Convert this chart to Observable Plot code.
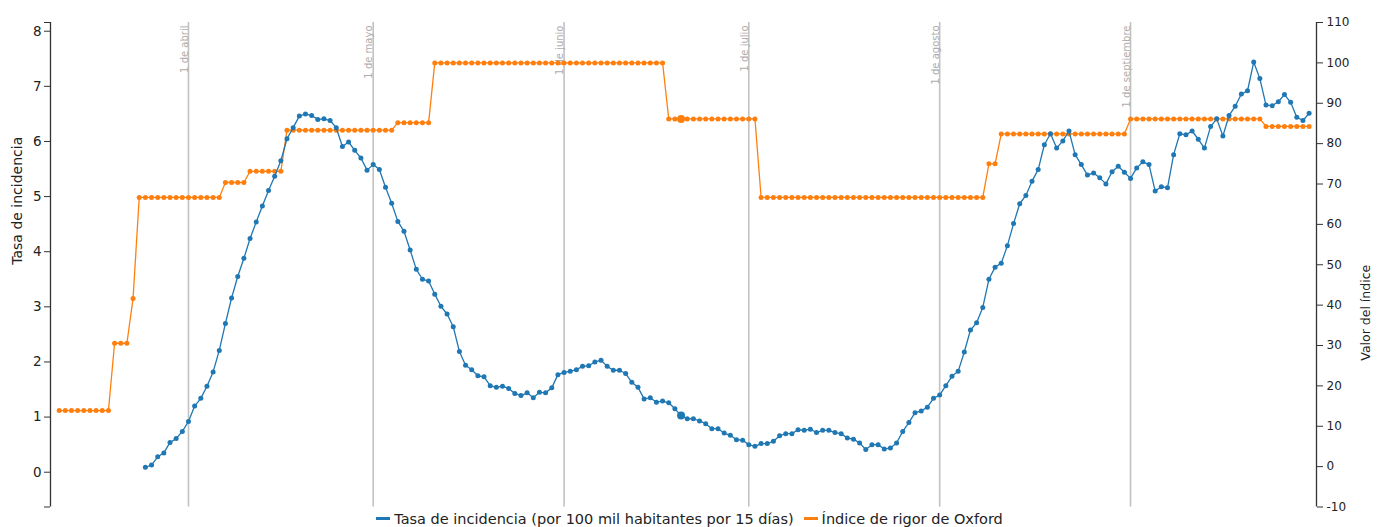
<!DOCTYPE html>
<html>
<head>
<meta charset="utf-8">
<script src="https://cdn.jsdelivr.net/npm/d3@7"></script>
<script src="https://cdn.jsdelivr.net/npm/@observablehq/plot@0.6"></script>
<style>
  html, body { margin: 0; padding: 0; background: #fff; }
  body { width: 1383px; font-family: "DejaVu Sans", sans-serif; }
  #chart svg { display: block; overflow: visible; }
  #legend { height: 17px; display: flex; justify-content: center; align-items: center;
            font-size: 14.5px; color: #222; white-space: nowrap; padding-right: 4px; }
  #legend .sw { display: inline-block; width: 14px; height: 3px; margin-right: 4px; }
  #legend .item { display: inline-flex; align-items: center; margin: 0 5px; }
</style>
</head>
<body>
<div id="chart"></div>
<div id="legend"></div>
<script>
// ---------------- data ----------------
const incidenceStart = "2020-03-25";
// Tasa de incidencia, daily from 25 March to 30 September
const incidence = [
  // Mar 25-31
  0.09, 0.13, 0.28, 0.35, 0.54, 0.61, 0.74,
  // Apr
  0.92, 1.20, 1.34, 1.56, 1.82, 2.21, 2.70, 3.16, 3.55, 3.88,
  4.24, 4.54, 4.83, 5.11, 5.37, 5.65, 6.05, 6.25, 6.46, 6.50,
  6.47, 6.40, 6.41, 6.38, 6.25, 5.91, 5.99, 5.84, 5.70, 5.48,
  // May
  5.58, 5.49, 5.17, 4.88, 4.55, 4.37, 4.03, 3.68, 3.50, 3.47,
  3.23, 3.01, 2.87, 2.64, 2.19, 1.94, 1.86, 1.75, 1.73, 1.57,
  1.54, 1.56, 1.52, 1.43, 1.39, 1.44, 1.35, 1.45, 1.44, 1.53, 1.77,
  // Jun
  1.81, 1.83, 1.86, 1.92, 1.93, 2.00, 2.03, 1.92, 1.85, 1.85,
  1.79, 1.63, 1.54, 1.33, 1.35, 1.27, 1.29, 1.26, 1.15, 1.03,
  0.97, 0.97, 0.93, 0.88, 0.79, 0.79, 0.71, 0.67, 0.59, 0.58,
  // Jul
  0.50, 0.47, 0.52, 0.52, 0.56, 0.66, 0.70, 0.70, 0.77, 0.76,
  0.78, 0.72, 0.76, 0.76, 0.72, 0.70, 0.62, 0.60, 0.53, 0.41,
  0.50, 0.50, 0.42, 0.44, 0.53, 0.74, 0.90, 1.08, 1.11, 1.18, 1.34,
  // Aug
  1.40, 1.57, 1.74, 1.83, 2.18, 2.58, 2.71, 2.99, 3.50, 3.72,
  3.79, 4.11, 4.51, 4.87, 5.02, 5.28, 5.49, 5.94, 6.14, 5.88,
  6.01, 6.19, 5.76, 5.58, 5.39, 5.43, 5.34, 5.23, 5.45, 5.55, 5.44,
  // Sep
  5.33, 5.52, 5.63, 5.58, 5.10, 5.18, 5.16, 5.76, 6.14, 6.12,
  6.19, 6.04, 5.88, 6.27, 6.41, 6.10, 6.47, 6.64, 6.86, 6.92,
  7.44, 7.14, 6.66, 6.65, 6.72, 6.85, 6.71, 6.44, 6.38, 6.51
];

// Índice de rigor de Oxford: value in force from each date on
const oxfordStepDates  = ["2020-03-11","2020-03-20","2020-03-23","2020-03-24","2020-04-07","2020-04-11",
                          "2020-04-17","2020-05-05","2020-05-11","2020-06-18","2020-07-03","2020-08-09",
                          "2020-08-11","2020-09-01","2020-09-23"];
const oxfordStepValues = [13.89, 30.56, 41.67, 66.67, 70.37, 73.15,
                          83.33, 85.19, 100, 86.11, 66.67, 75.00,
                          82.41, 86.11, 84.26];
const oxfordEnd = "2020-09-30";

const monthDates  = ["2020-04-01","2020-05-01","2020-06-01","2020-07-01","2020-08-01","2020-09-01"];
const monthLabels = ["1 de abril","1 de mayo","1 de junio","1 de julio","1 de agosto","1 de septiembre"];

const leftTicks  = [0, 1, 2, 3, 4, 5, 6, 7, 8];
const rightTicks = [-10, 0, 10, 20, 30, 40, 50, 60, 70, 80, 90, 100, 110];

const highlightDate = "2020-06-20";

const seriesNames  = ["Tasa de incidencia (por 100 mil habitantes por 15 días)", "Índice de rigor de Oxford"];
const seriesColors = ["#1f77b4", "#ff7f0e"];
const leftTitle  = "Tasa de incidencia";
const rightTitle = "Valor del índice";

// ---------------- scales ----------------
const xDomain = [new Date("2020-03-09T14:10:00Z"), new Date("2020-10-01T04:50:00Z")];
const yDomain = [-0.631, 8.158];        // left axis
const rDomain = [-10, 110];             // right axis
const toLeft = r => yDomain[0] + (r - rDomain[0]) * (yDomain[1] - yDomain[0]) / (rDomain[1] - rDomain[0]);
const fromLeft = y => rDomain[0] + (y - yDomain[0]) * (rDomain[1] - rDomain[0]) / (yDomain[1] - yDomain[0]);

// ---------------- tables ----------------
const parse = s => new Date(s + "T00:00:00Z");
const incData = incidence.map((v, i) => ({date: d3.utcDay.offset(parse(incidenceStart), i), value: v}));
const stepDates = oxfordStepDates.map(parse);
const oxData = d3.utcDay.range(stepDates[0], d3.utcDay.offset(parse(oxfordEnd), 1)).map(date => {
  const k = d3.bisectRight(stepDates, date) - 1;
  return {date, value: oxfordStepValues[k], yl: toLeft(oxfordStepValues[k])};
});
const months = monthDates.map((d, i) => ({date: parse(d), label: monthLabels[i]}));
const hl = parse(highlightDate);
const incHL = incData.filter(d => +d.date === +hl);
const oxHL = oxData.filter(d => +d.date === +hl);

const leftTickPos = [yDomain[0], ...leftTicks, yDomain[1]];
const rightTickPos = rightTicks.map(toLeft);

const [blue, orange] = seriesColors;

const plot = Plot.plot({
  width: 1383,
  height: 510,
  marginLeft: 50,
  marginRight: 67,
  marginTop: 22,
  marginBottom: 3.5,
  style: {fontFamily: "DejaVu Sans", background: "#fff", color: "#222", overflow: "visible"},
  x: {type: "utc", domain: xDomain, axis: null},
  y: {domain: yDomain, axis: null},
  marks: [
    Plot.ruleX(months, {x: "date", stroke: "#c2c2c2", strokeWidth: 1.6}),
    Plot.text(months, {x: "date", text: "label", frameAnchor: "top", rotate: -90, textAnchor: "end",
                       dx: -8, dy: 3, fill: "#adadad", fontSize: 10}),
    Plot.ruleX(xDomain, {stroke: "#333", strokeWidth: 1.3}),
    Plot.axisY(leftTickPos, {anchor: "left", tickSize: 6, tickPadding: 3, fontSize: 13.5, label: null,
                             stroke: "#333", fill: "#222",
                             tickFormat: d => leftTicks.includes(d) ? String(d) : ""}),
    Plot.axisY(rightTickPos, {anchor: "right", tickSize: 6, tickPadding: 4, fontSize: 12, label: null,
                              stroke: "#333", fill: "#222",
                              tickFormat: d => String(Math.round(fromLeft(d)))}),
    Plot.line(oxData, {x: "date", y: "yl", stroke: orange, strokeWidth: 1.3}),
    Plot.dot(oxData, {x: "date", y: "yl", r: 2.5, fill: orange}),
    Plot.line(incData, {x: "date", y: "value", stroke: blue, strokeWidth: 1.3}),
    Plot.dot(incData, {x: "date", y: "value", r: 2.5, fill: blue}),
    Plot.dot(oxHL, {x: "date", y: "yl", r: 4, fill: orange}),
    Plot.dot(incHL, {x: "date", y: "value", r: 4, fill: blue}),
    Plot.text([leftTitle], {text: d => d, frameAnchor: "left", dx: -33, rotate: -90, fontSize: 14, fill: "#222"}),
    Plot.text([rightTitle], {text: d => d, frameAnchor: "right", dx: 49, rotate: -90, fontSize: 12.5, fill: "#222"})
  ]
});
document.getElementById("chart").appendChild(plot);

const legend = document.getElementById("legend");
seriesNames.forEach((name, i) => {
  const item = document.createElement("span");
  item.className = "item";
  const sw = document.createElement("span");
  sw.className = "sw";
  sw.style.background = seriesColors[i];
  const tx = document.createElement("span");
  tx.textContent = name;
  item.appendChild(sw);
  item.appendChild(tx);
  legend.appendChild(item);
});
</script>
</body>
</html>
